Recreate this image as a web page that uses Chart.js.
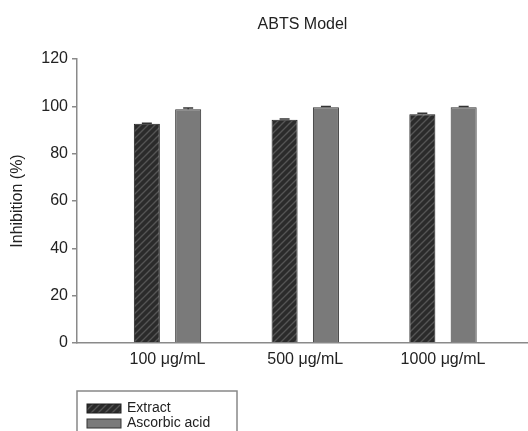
<!DOCTYPE html>
<html>
<head>
<meta charset="utf-8">
<script src="https://cdn.jsdelivr.net/npm/chart.js@4.4.1/dist/chart.umd.min.js"></script>
<style>
  html, body { margin: 0; padding: 0; background: #fff; }
  #wrap { width: 528px; height: 431px; }
</style>
</head>
<body>
<div id="wrap"><canvas id="grafico"></canvas></div>
<script>
const categorias = ['100 \u03bcg/mL', '500 \u03bcg/mL', '1000 \u03bcg/mL'];
const extrato = [92.6, 94.3, 96.7];
const extratoErro = [0.3, 0.4, 0.4];
const ascorbico = [98.8, 99.6, 99.6];
const ascorbicoErro = [0.5, 0.3, 0.3];
const yTicks = [0, 20, 40, 60, 80, 100, 120];

const fonte = 'Liberation Sans, Arial, sans-serif';

// hachura diagonal do extrato
function criarHachura() {
    const c = document.createElement('canvas');
    c.width = 7; c.height = 7;
    const g = c.getContext('2d');
    g.fillStyle = '#2b2b2b';
    g.fillRect(0, 0, 7, 7);
    g.strokeStyle = '#555';
    g.lineWidth = 1.4;
    g.beginPath();
    g.moveTo(-1, 8); g.lineTo(8, -1);
    g.moveTo(-1, 1); g.lineTo(1, -1);
    g.moveTo(6, 8); g.lineTo(8, 6);
    g.stroke();
    return g.createPattern(c, 'repeat');
}
const hachura = criarHachura();

const errosPlugin = {
    id: 'erros',
    afterDatasetsDraw(chart) {
        const ctx = chart.ctx;
        const y = chart.scales.y;
        const erros = [extratoErro, ascorbicoErro];
        ctx.save();
        ctx.strokeStyle = '#333';
        ctx.lineWidth = 1.5;
        chart.data.datasets.forEach((ds, i) => {
            chart.getDatasetMeta(i).data.forEach((bar, j) => {
                const v = ds.data[j].y;
                const yTop = y.getPixelForValue(v + erros[i][j]);
                ctx.beginPath();
                ctx.moveTo(bar.x, bar.y);
                ctx.lineTo(bar.x, yTop);
                ctx.moveTo(bar.x - 5, yTop);
                ctx.lineTo(bar.x + 5, yTop);
                ctx.stroke();
            });
        });
        ctx.restore();
    }
};

const legendaPlugin = {
    id: 'legendaCaixa',
    afterDraw(chart) {
        const ctx = chart.ctx;
        const left = chart.chartArea.left;
        const top = 391;
        ctx.save();
        ctx.strokeStyle = '#888';
        ctx.lineWidth = 1.5;
        ctx.strokeRect(left, top, 160, 60);
        ctx.font = '14px ' + fonte;
        ctx.textBaseline = 'middle';
        chart.data.datasets.forEach((ds, i) => {
            const sy = top + 13 + i * 15;
            ctx.fillStyle = ds.backgroundColor;
            ctx.fillRect(left + 10, sy, 34, 9);
            ctx.strokeStyle = ds.borderColor;
            ctx.lineWidth = 1;
            ctx.strokeRect(left + 10, sy, 34, 9);
            ctx.fillStyle = '#222';
            ctx.fillText(ds.label, left + 50, sy + 4.5);
        });
        ctx.restore();
    }
};

new Chart(document.getElementById('grafico'), {
    type: 'bar',
    data: {
        datasets: [{
            label: 'Extract',
            data: extrato.map((v, i) => ({ x: i, y: v })),
            backgroundColor: hachura,
            borderColor: '#1e1e1e',
            borderWidth: 1
        }, {
            label: 'Ascorbic acid',
            data: ascorbico.map((v, i) => ({ x: i, y: v })),
            backgroundColor: '#7a7a7a',
            borderColor: '#333',
            borderWidth: 1
        }]
    },
    options: {
        responsive: true,
        maintainAspectRatio: false,
        animation: false,
        categoryPercentage: 0.6,
        barPercentage: 0.63,
        layout: { padding: 0 },
        plugins: {
            legend: { display: false },
            tooltip: { enabled: false },
            title: {
                display: true,
                fullSize: false,
                text: 'ABTS Model',
                color: '#222',
                font: { family: fonte, size: 16, weight: 'normal' },
                padding: { top: 15.4, bottom: 24.4 }
            }
        },
        scales: {
            x: {
                type: 'linear',
                offset: false,
                min: -0.657,
                max: 2.617,
                afterFit: s => { s.height = 88; },
                grid: { display: false, drawTicks: false, offset: false },
                border: { display: true, color: '#8a8a8a', width: 1.5 },
                ticks: {
                    stepSize: 1,
                    includeBounds: false,
                    padding: 7,
                    color: '#222',
                    font: { family: fonte, size: 16 },
                    callback: v => categorias[v] ?? ''
                }
            },
            y: {
                min: 0,
                max: 120,
                afterFit: s => { s.width = 77; },
                afterBuildTicks: s => { s.ticks = yTicks.map(v => ({ value: v })); },
                grid: { display: true, drawOnChartArea: false, drawTicks: true, tickLength: 5, color: '#8a8a8a', lineWidth: 1.5 },
                border: { display: true, color: '#8a8a8a', width: 1.5 },
                ticks: {
                    padding: 4,
                    color: '#222',
                    font: { family: fonte, size: 16 }
                },
                title: {
                    display: true,
                    text: 'Inhibition (%)',
                    color: '#222',
                    font: { family: fonte, size: 16 },
                    padding: { top: 8.4, bottom: 0 }
                }
            }
        }
    },
    plugins: [errosPlugin, legendaPlugin]
});
</script>
</body>
</html>
